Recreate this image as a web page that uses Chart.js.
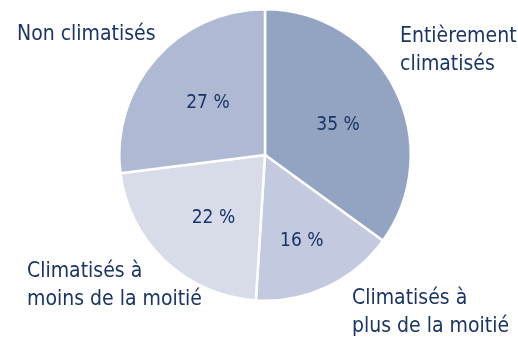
<!DOCTYPE html>
<html>
<head>
<meta charset="utf-8">
<script src="https://cdn.jsdelivr.net/npm/chart.js@4/dist/chart.umd.min.js"></script>
<style>
  html, body { margin: 0; padding: 0; background: #fff; }
  #wrap { width: 518px; height: 337px; }
</style>
</head>
<body>
<div id="wrap"><canvas id="pie"></canvas></div>
<script>
// parts du parc (en %)
const categories = ['Entièrement climatisés', 'Climatisés à plus de la moitié', 'Climatisés à moins de la moitié', 'Non climatisés'];
const valeurs = [35, 16, 22, 27];
const couleurs = ['#93a3c2', '#c3c9de', '#d7dce8', '#b0b9d3'];

// texte des étiquettes extérieures, ligne par ligne
const etiquettes = [
  ['Entièrement', 'climatisés'],
  ['Climatisés à', 'plus de la moitié'],
  ['Climatisés à', 'moins de la moitié'],
  ['Non climatisés']
];
const posEtiquettes = [[400, 37], [352, 299], [27, 272], [17, 35]];
// placement des pourcentages : fraction du rayon, décalage angulaire (degrés)
const rayonPct = [0.54, 0.64, 0.56, 0.53];
const decalPct = [5, 2, -4, 1];

const police = "'Liberation Sans Narrow', 'DejaVu Sans Condensed', 'Roboto Condensed', sans-serif";
const bleuTexte = '#1a3466';

const labelsPlugin = {
  id: 'labels',
  afterDatasetsDraw(chart) {
    const ctx = chart.ctx;
    const arcs = chart.getDatasetMeta(0).data;
    ctx.save();
    ctx.fillStyle = bleuTexte;
    ctx.textBaseline = 'middle';
    // pourcentages dans les parts
    ctx.font = '19px ' + police;
    ctx.textAlign = 'center';
    arcs.forEach((arc, i) => {
      const p = arc.getProps(['x', 'y', 'startAngle', 'endAngle', 'outerRadius'], true);
      const a = (p.startAngle + p.endAngle) / 2 + decalPct[i] * Math.PI / 180;
      const r = p.outerRadius * rayonPct[i];
      ctx.fillText(valeurs[i] + ' %', p.x + Math.cos(a) * r, p.y + Math.sin(a) * r);
    });
    // libellés autour du camembert
    ctx.font = '21px ' + police;
    ctx.textAlign = 'left';
    etiquettes.forEach((lignes, i) => {
      lignes.forEach((t, k) => {
        ctx.fillText(t, posEtiquettes[i][0], posEtiquettes[i][1] + k * 28);
      });
    });
    ctx.restore();
  }
};

new Chart(document.getElementById('pie'), {
  type: 'pie',
  data: {
    labels: categories,
    datasets: [{
      data: valeurs,
      backgroundColor: couleurs,
      borderColor: '#ffffff',
      borderWidth: 2.5
    }]
  },
  options: {
    responsive: true,
    maintainAspectRatio: false,
    animation: false,
    layout: { padding: { top: 8, bottom: 35, left: 118, right: 106 } },
    plugins: {
      legend: { display: false },
      tooltip: { enabled: false }
    }
  },
  plugins: [labelsPlugin]
});
</script>
</body>
</html>
